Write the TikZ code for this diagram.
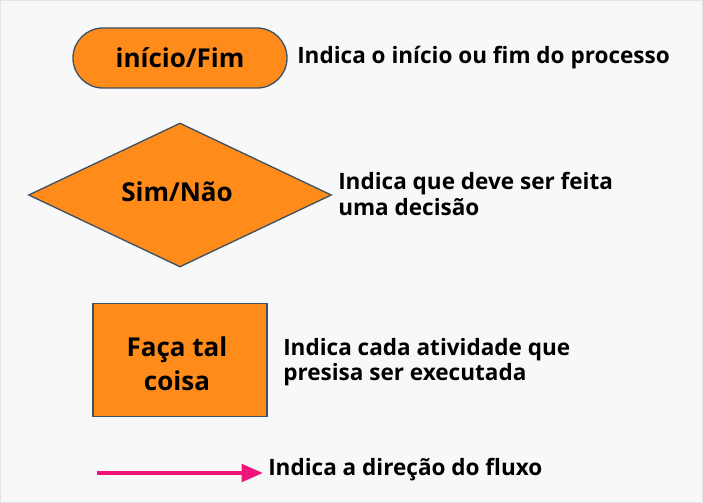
\documentclass[tikz,border=0pt]{standalone}
\usepackage{fontspec}
\setmainfont{Open Sans}
\usetikzlibrary{shapes.geometric,arrows.meta}
\definecolor{bg}{HTML}{F8F8F8}
\definecolor{fillor}{HTML}{FF8C1A}
\definecolor{edge}{HTML}{3E5265}
\definecolor{flow}{HTML}{F0147A}
\tikzset{
  shapetext/.style={font=\bfseries\fontsize{19.5}{25.5}\selectfont, text=black},
  labeltext/.style={font=\bfseries\fontsize{16.9}{19}\selectfont, text=black, anchor=west, align=left, inner sep=0pt},
  orangeshape/.style={fill=fillor, draw=edge, line width=1pt},
}
\begin{document}
\begin{tikzpicture}[x=0.75pt,y=-0.75pt]
\fill[bg] (0,0) rectangle (703,503);
\draw[black!10, line width=0.75pt] (0.5,0.5) rectangle (702.5,502.5);
\useasboundingbox (0,0) rectangle (703,503);
% terminal
\node[orangeshape, shapetext, rounded corners=22.5pt, minimum width=214*0.75pt, minimum height=60*0.75pt] (term) at (180,58) {início/Fim};
\node[labeltext] (l1) at (297,58) {Indica o início ou fim do processo};
% decision
\node[orangeshape, shapetext, diamond, aspect=2.1, minimum width=303*0.75pt, minimum height=144*0.75pt, inner sep=0pt] (dec) at (180,195) {};
\node[shapetext] (dect) at (177,192) {Sim/Não};
\node[labeltext] (l2) at (338,194) {Indica que deve ser feita\\uma decisão};
% process
\node[orangeshape, minimum width=174*0.75pt, minimum height=113*0.75pt] (proc) at (180,360) {};
\node[shapetext, align=center] (proct) at (177,364) {Faça tal\\coisa};
\node[labeltext] (l3) at (283,362) {Indica cada atividade que\\presisa ser executada};
% flow arrow
\coordinate (a0) at (97,473);
\coordinate (a1) at (263,473);
\draw[flow, line width=3pt, -{Triangle[length=16pt,width=13pt]}] (a0) -- (a1);
\node[labeltext] (l4) at (268,470) {Indica a direção do fluxo};
\end{tikzpicture}
\end{document}
